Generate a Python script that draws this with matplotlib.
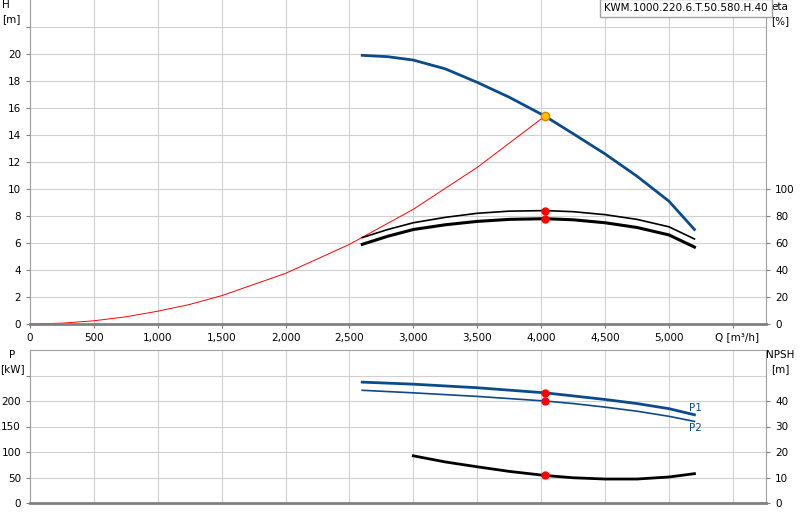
import matplotlib
matplotlib.use("Agg")
import matplotlib.pyplot as plt
import numpy as np

q_h = [2600, 2800, 3000, 3250, 3500, 3750, 4030, 4250, 4500, 4750, 5000, 5200]
h = [19.9, 19.8, 19.55, 18.9, 17.9, 16.8, 15.4, 14.1, 12.6, 10.95, 9.1, 7.0]
q_sys = [0, 250, 500, 750, 1000, 1250, 1500, 2000, 2500, 3000, 3500, 4030]
h_sys = [0, 0.06, 0.24, 0.53, 0.95, 1.45, 2.1, 3.75, 5.9, 8.5, 11.6, 15.4]
q_eta = [2600, 2800, 3000, 3250, 3500, 3750, 4030, 4250, 4500, 4750, 5000, 5200]
eta1 = [64, 70, 75, 79, 82, 83.6, 84, 83.2, 81, 77.5, 72, 63]
eta2 = [59, 65, 70, 73.5, 76, 77.5, 78, 77.2, 75, 71.5, 66, 57]
q_p = [2600, 3000, 3500, 4030, 4250, 4500, 4750, 5000, 5200]
p1 = [237, 233, 226, 216, 210, 203, 195, 185, 173]
p2 = [221, 216, 209, 200, 195, 188, 180, 170, 160]
q_npsh = [3000, 3250, 3500, 3750, 4030, 4250, 4500, 4750, 5000, 5200]
npsh = [18.5, 16.1, 14.2, 12.4, 10.8, 9.9, 9.4, 9.4, 10.2, 11.5]
q_op = 4030
title = "KWM.1000.220.6.T.50.580.H.40"

blue = "#0b4a8b"
W, H_ = 800, 520
fig = plt.figure(figsize=(8, 5.2), dpi=100)
def rect(x0, y0, x1, y1):
    return [x0 / W, 1 - y1 / H_, (x1 - x0) / W, (y1 - y0) / H_]

ax = fig.add_axes(rect(30, 0, 766, 324))
ax2 = fig.add_axes(rect(30, 350, 766, 503))
fs = 7.5
for a in (ax, ax2):
    a.set_xlim(0, 5760)
    a.set_xticks(np.arange(0, 5760, 500))
    a.grid(True, color="#d0d0d0", lw=0.8)
    a.set_axisbelow(True)
    a.tick_params(labelsize=fs, length=3, color="#808080")
    for s in a.spines.values():
        s.set_color("#a0a0a0")
    a.spines["bottom"].set_color("#808080"); a.spines["bottom"].set_linewidth(2)
    a.spines["top"].set_visible(a is ax2)

ax.set_ylim(0, 24)
ax.set_yticks(np.arange(0, 24, 2))
ax.set_yticklabels([str(v) if v <= 20 else "" for v in range(0, 24, 2)])
ax.set_xticklabels([f"{v:,}" if v <= 5000 else "" for v in range(0, 5760, 500)])
ax.text(5530, -0.6, "Q [m³/h]", fontsize=fs, va="top", ha="center")
ax.plot(q_sys, h_sys, color="red", lw=0.7)
ax.plot(q_h, h, color=blue, lw=2)
axe = ax.twinx()
axe.set_ylim(0, 240)
axe.set_yticks(np.arange(0, 101, 20))
axe.tick_params(labelsize=fs, length=3, color="#808080")
for s in axe.spines.values():
    s.set_visible(False)
axe.plot(q_eta, eta1, color="black", lw=1.2)
axe.plot(q_eta, eta2, color="black", lw=2.2)
axe.plot([q_op, q_op], [eta1[6], eta2[6]], "o", color="red", ms=5, zorder=5)
ax.plot([q_op], [h[6]], "o", color="#ffc000", mec="#e08000", ms=6, zorder=5)
fig.text(2 / W, 1 - 12 / H_, "H\n[m]", fontsize=fs, ha="left", va="center", linespacing=1.4)
fig.text(780 / W, 1 - 14 / H_, "eta\n[%]", fontsize=fs, ha="center", va="center", linespacing=1.4)
fig.text(686 / W, 1 - 8 / H_, title, fontsize=fs, ha="center", va="center",
         bbox=dict(boxstyle="square,pad=0.4", fc="white", ec="#a0a0a0"))

ax2.set_ylim(0, 300)
ax2.set_yticks(np.arange(0, 300, 50))
ax2.set_yticklabels([str(v) if v <= 200 else "" for v in range(0, 300, 50)])
ax2.set_xticklabels([])
ax2.tick_params(axis="x", length=0)
ax2.plot(q_p, p1, color=blue, lw=2)
ax2.plot(q_p, p2, color=blue, lw=1.2)
ax2.plot([q_op, q_op], [p1[3], p2[3]], "o", color="red", ms=5, zorder=5)
ax2.text(q_p[-1] - 40, p1[-1] + 4, "P1", color=blue, fontsize=fs, va="bottom")
ax2.text(q_p[-1] - 40, p2[-1] - 4, "P2", color=blue, fontsize=fs, va="top")
axn = ax2.twinx()
axn.set_ylim(0, 60)
axn.set_yticks(np.arange(0, 50, 10))
axn.tick_params(labelsize=fs, length=3, color="#808080")
for s in axn.spines.values():
    s.set_visible(False)
axn.plot(q_npsh, npsh, color="black", lw=2)
axn.plot([q_op], [npsh[4]], "o", color="red", ms=5, zorder=5)
fig.text(12 / W, 1 - 362 / H_, "P\n[kW]", fontsize=fs, ha="center", va="center", linespacing=1.4)
fig.text(780 / W, 1 - 362 / H_, "NPSH\n[m]", fontsize=fs, ha="center", va="center", linespacing=1.4)

fig.savefig("out.png", dpi=100)
